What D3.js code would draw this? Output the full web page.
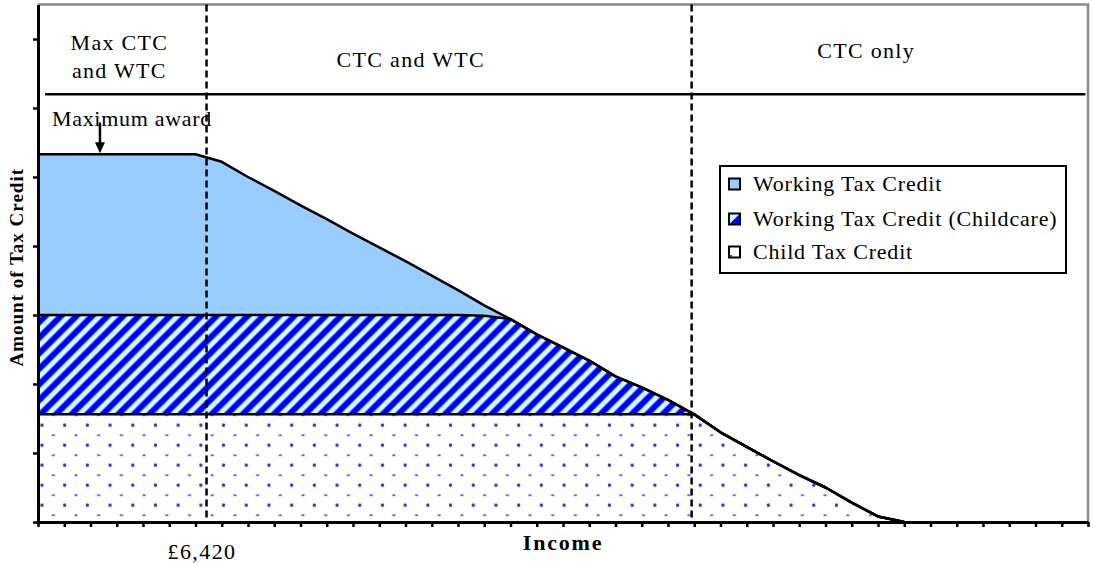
<!DOCTYPE html>
<html>
<head>
<meta charset="utf-8">
<script src="https://cdn.jsdelivr.net/npm/d3@7"></script>
<style>
  body { margin: 0; background: #fff; }
  text { font-family: "Liberation Serif", "Times New Roman", serif; fill: #000; }
</style>
</head>
<body>
<div id="chart"></div>
<script>
// income in £000s, award amounts in arbitrary units
const income = [0, 6, 7, 8, 9, 10, 11, 12, 13, 14, 15, 16, 17, 18, 19, 20, 21, 22, 23, 24, 25, 26, 27, 28, 29, 30, 31, 32, 33]
const ctcValues = [1.56, 1.56, 1.56, 1.56, 1.56, 1.56, 1.56, 1.56, 1.56, 1.56, 1.56, 1.56, 1.56, 1.56, 1.56, 1.56, 1.56, 1.56, 1.56, 1.56, 1.56, 1.30, 1.09, 0.88, 0.68, 0.50, 0.28, 0.08, 0]
const childcareValues = [1.44, 1.44, 1.44, 1.44, 1.44, 1.44, 1.44, 1.44, 1.44, 1.44, 1.44, 1.44, 1.43, 1.38, 1.16, 0.97, 0.78, 0.55, 0.39, 0.21, 0, 0, 0, 0, 0, 0, 0, 0, 0]
const wtcValues = [2.33, 2.33, 2.22, 2.00, 1.80, 1.59, 1.39, 1.18, 0.98, 0.78, 0.57, 0.36, 0.15, 0, 0, 0, 0, 0, 0, 0, 0, 0, 0, 0, 0, 0, 0, 0, 0]

const seriesKeys = ['ctc', 'childcare', 'wtc']
const seriesNames = ['Working Tax Credit', 'Working Tax Credit (Childcare)', 'Child Tax Credit']
const regionLabels = [['Max CTC', 'and WTC'], ['CTC and WTC'], ['CTC only']]
const boundaries = [6.42, 24.9]   // where the regions change
const boundaryLabel = '£6,420'
const maxAward = 5.33

const MARGIN = { TOP: 4.5, BOTTOM: 41, LEFT: 38, RIGHT: 5 }
const WIDTH = 1093 - MARGIN.LEFT - MARGIN.RIGHT
const HEIGHT = 563 - MARGIN.TOP - MARGIN.BOTTOM

const svg = d3.select('#chart')
  .append('svg')
    .attr('width', 1093)
    .attr('height', 563)

const defs = svg.append('defs')

// diagonal stripes for childcare
const stripes = defs.append('pattern')
  .attr('id', 'stripes')
  .attr('patternUnits', 'userSpaceOnUse')
  .attr('width', 11)
  .attr('height', 11)
  .attr('patternTransform', 'rotate(45)')
stripes.append('rect').attr('width', 11).attr('height', 11).attr('fill', '#ccffff')
stripes.append('rect').attr('x', 2).attr('width', 7).attr('height', 11).attr('fill', '#7777ff')
stripes.append('rect').attr('x', 3).attr('width', 5).attr('height', 11).attr('fill', '#0000ff')

// dots for child tax credit
const dots = defs.append('pattern')
  .attr('id', 'dots')
  .attr('patternUnits', 'userSpaceOnUse')
  .attr('x', MARGIN.LEFT)
  .attr('y', 415.7)
  .attr('width', 22.7)
  .attr('height', 20)
dots.append('rect').attr('width', 22.7).attr('height', 20).attr('fill', '#fff')
dots.append('circle').attr('cx', 11.35).attr('cy', 5).attr('r', 1.7).attr('fill', '#2222ff')
dots.append('rect').attr('x', -1.5).attr('y', 14.3).attr('width', 3).attr('height', 1.5).attr('fill', '#3333ff')
dots.append('rect').attr('x', 21.2).attr('y', 14.3).attr('width', 3).attr('height', 1.5).attr('fill', '#3333ff')

const fills = { ctc: 'url(#dots)', childcare: 'url(#stripes)', wtc: '#99ccff' }

const g = svg.append('g')
  .attr('transform', `translate(${MARGIN.LEFT}, ${MARGIN.TOP})`)

const x = d3.scaleLinear().domain([0, 40]).range([0, WIDTH])
const y = d3.scaleLinear().domain([0, 7.5]).range([HEIGHT, 0])

const table = income.map((inc, i) => ({
  income: inc, ctc: ctcValues[i], childcare: childcareValues[i], wtc: wtcValues[i]
}))
const stacked = d3.stack().keys(seriesKeys)(table)

const area = d3.area()
  .x(d => x(d.data.income))
  .y0(d => y(d[0]))
  .y1(d => y(d[1]))

const topLine = d3.line()
  .x(d => x(d.data.income))
  .y(d => y(d[1]))

g.selectAll('path.layer')
  .data(stacked)
  .enter().append('path')
    .attr('class', 'layer')
    .attr('d', area)
    .attr('fill', d => fills[d.key])

g.selectAll('path.edge')
  .data(stacked)
  .enter().append('path')
    .attr('class', 'edge')
    .attr('d', topLine)
    .attr('fill', 'none')
    .attr('stroke', '#000')
    .attr('stroke-width', 2.5)
    .attr('stroke-linejoin', 'round')

// frame: grey top and right
g.append('path')
  .attr('d', `M0,${y(7.5)}H${x(40)}V${y(0)}`)
  .attr('fill', 'none')
  .attr('stroke', '#888')
  .attr('stroke-width', 2.5)

// band dividing the region labels
g.append('line')
  .attr('x1', x(0.27)).attr('x2', x(39.9))
  .attr('y1', y(6.2)).attr('y2', y(6.2))
  .attr('stroke', '#000')
  .attr('stroke-width', 2.5)

// dashed region boundaries
g.selectAll('line.boundary')
  .data(boundaries)
  .enter().append('line')
    .attr('class', 'boundary')
    .attr('x1', d => x(d)).attr('x2', d => x(d))
    .attr('y1', y(7.5)).attr('y2', y(0))
    .attr('stroke', '#000')
    .attr('stroke-width', 2.5)
    .attr('stroke-dasharray', '7,4')

// axes
const xAxisGroup = g.append('g')
  .attr('transform', `translate(0, ${HEIGHT})`)
  .call(d3.axisBottom(x).tickValues(d3.range(0, 41)).tickSize(5).tickSizeOuter(0).tickFormat(''))
xAxisGroup.select('.domain').attr('stroke-width', 3)
xAxisGroup.selectAll('.tick line').attr('stroke-width', 2.5)

const labelAxis = g.append('g')
  .attr('transform', `translate(0, ${HEIGHT})`)
  .call(d3.axisBottom(x).tickValues([boundaries[0]]).tickSize(0).tickPadding(21).tickFormat(() => boundaryLabel))
labelAxis.select('.domain').remove()
labelAxis.selectAll('text')
  .attr('font-family', '"Liberation Serif", serif')
  .attr('font-size', 22)
  .attr('letter-spacing', 1.4)
  .attr('dx', -5)

const yAxisGroup = g.append('g')
  .call(d3.axisLeft(y).tickValues(d3.range(0, 8)).tickSize(5).tickSizeOuter(0).tickFormat(''))
yAxisGroup.select('.domain').attr('stroke-width', 3)
yAxisGroup.selectAll('.tick line').attr('stroke-width', 2.5)

// axis titles
g.append('text')
  .attr('x', x(20))
  .attr('y', HEIGHT + 28)
  .attr('text-anchor', 'middle')
  .attr('font-weight', 'bold')
  .attr('font-size', 22)
  .attr('letter-spacing', 1.8)
  .text('Income')

g.append('text')
  .attr('x', -HEIGHT / 2 - 4)
  .attr('y', -15)
  .attr('text-anchor', 'middle')
  .attr('transform', 'rotate(-90)')
  .attr('font-weight', 'bold')
  .attr('font-size', 19)
  .attr('letter-spacing', 1)
  .text('Amount of Tax Credit')

// region labels
const regionCentres = [3.1, 14.2, 31.55]
const regionTops = [45.5, 62.5, 53]
regionLabels.forEach((lines, i) => {
  const t = g.append('text')
    .attr('text-anchor', 'middle')
    .attr('font-size', 22)
    .attr('letter-spacing', 1.3)
  lines.forEach((ln, j) => {
    t.append('tspan')
      .attr('x', x(regionCentres[i]))
      .attr('y', regionTops[i] + j * 28)
      .text(ln)
  })
})

// maximum award annotation
g.append('text')
  .attr('x', x(0.53))
  .attr('y', 121.5)
  .attr('font-size', 22)
  .attr('letter-spacing', 0.7)
  .text('Maximum award')

g.append('line')
  .attr('x1', x(2.36)).attr('x2', x(2.36))
  .attr('y1', 118).attr('y2', y(maxAward) - 10)
  .attr('stroke', '#000')
  .attr('stroke-width', 2.5)
g.append('path')
  .attr('d', `M${x(2.36) - 5},${y(maxAward) - 12}L${x(2.36) + 5},${y(maxAward) - 12}L${x(2.36)},${y(maxAward) - 1}Z`)
  .attr('fill', '#000')

// legend
const legend = svg.append('g').attr('transform', 'translate(720, 166)')
legend.append('rect')
  .attr('width', 346).attr('height', 107)
  .attr('fill', '#fff')
  .attr('stroke', '#000')
  .attr('stroke-width', 2)

const swatchKeys = ['wtc', 'childcare', 'ctc']
const rowY = [18, 53, 86]
const items = legend.selectAll('g.item')
  .data(seriesNames)
  .enter().append('g')
    .attr('class', 'item')
    .attr('transform', (d, i) => `translate(9, ${rowY[i]})`)

items.each(function (d, i) {
  const it = d3.select(this)
  const key = swatchKeys[i]
  if (key === 'wtc') {
    it.append('rect').attr('x', 0).attr('y', -5.5).attr('width', 11).attr('height', 11).attr('fill', '#99ccff')
  } else if (key === 'childcare') {
    it.append('rect').attr('x', 0).attr('y', -5.5).attr('width', 11).attr('height', 11).attr('fill', '#ccffff')
    it.append('path').attr('d', 'M11,-5.5L11,5.5L0,5.5Z').attr('fill', '#0000ff')
  } else {
    it.append('rect').attr('x', 0).attr('y', -5.5).attr('width', 11).attr('height', 11).attr('fill', '#fff')
    it.append('rect').attr('x', 1).attr('y', 3).attr('width', 2).attr('height', 1.5).attr('fill', '#3333ff')
  }
  it.append('rect').attr('x', 0).attr('y', -5.5).attr('width', 11).attr('height', 11)
    .attr('fill', 'none').attr('stroke', '#000').attr('stroke-width', 2)
  it.append('text')
    .attr('x', 24)
    .attr('y', 7)
    .attr('font-size', 22)
    .attr('letter-spacing', 0.8)
    .text(d)
})
</script>
</body>
</html>
